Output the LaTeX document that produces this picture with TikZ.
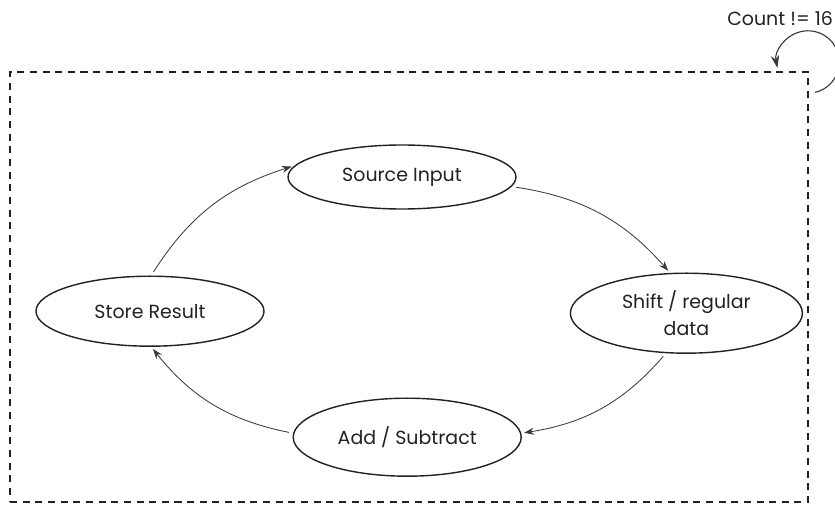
\documentclass[tikz,border=0pt]{standalone}
\usepackage{fontspec}
\setmainfont{Poppins}
\usepackage{tikz}
\usetikzlibrary{arrows.meta, positioning, shapes.geometric}
\definecolor{dark}{HTML}{222222}
\definecolor{arrowgray}{HTML}{3A3A3A}
\tikzset{
    stateblock/.style={
        ellipse, draw=dark, line width=1pt, fill=white,
        minimum width=5.7cm, minimum height=1.75cm,
        font=\fontsize{13.5}{19}\selectfont, text=dark, align=center, inner sep=1pt
    },
    flowarrow/.style={
        -{Stealth[length=7pt, width=5pt]}, line width=0.6pt, color=arrowgray,
        shorten >=2pt, shorten <=3pt
    },
    framebox/.style={
        rectangle, draw=dark, line width=1.5pt,
        dash pattern=on 5pt off 4pt, inner sep=0pt, outer sep=0pt
    },
}
\begin{document}
\begin{tikzpicture}
    \useasboundingbox (0,0) rectangle (20.875,-12.625);

    % Outer dashed frame
    \node[framebox, minimum width=19.95cm, minimum height=10.75cm] (frame) at (10.225,-7.175) {};

    % The four steps
    \node[stateblock, minimum height=1.6cm] (source) at (10.05,-4.425) {Source Input};
    \node[stateblock, minimum width=5.8cm, minimum height=2cm] (shift) at (17.16,-7.83) {Shift / regular\\data};
    \node[stateblock, minimum height=1.95cm] (addsub) at (10.18,-10.93) {Add / Subtract};
    \node[stateblock] (store) at (3.75,-7.78) {Store Result};

    % Cycle
    \draw[flowarrow] (source.-5) to[bend left=20] (shift.112);
    \draw[flowarrow] (shift.-117) to[bend left=20] (addsub.2);
    \draw[flowarrow] (addsub.178) to[bend left=20] (store.-88);
    \draw[flowarrow] (store.88) to[bend left=20] (source.174);

    % Repeat loop on the frame
    \coordinate (loopc) at ([yshift=0.25cm]frame.north east);
    \draw[flowarrow, line width=0.8pt, -{Stealth[length=9pt, width=6pt]}, shorten <=0pt, shorten >=0pt] ([shift={(-77:0.78)}]loopc) arc[start angle=-77, end angle=191, radius=0.78];
    \node[anchor=east, font=\fontsize{13.5}{16}\selectfont, text=dark, inner sep=0pt] (count) at (20.83,-0.47) {Count != 16};

\end{tikzpicture}
\end{document}
